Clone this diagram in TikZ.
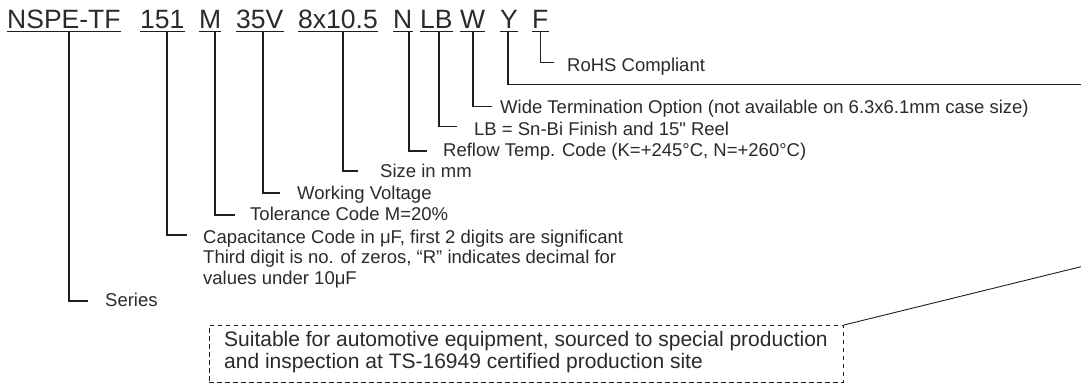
\documentclass[tikz,border=0pt]{standalone}
\usepackage{fontspec}
\setmainfont{Liberation Sans}
\newcommand{\straightdq}{\XeTeXglyph\XeTeXglyphindex "quotedbl"\relax}
\definecolor{ink}{HTML}{1E1E1E}
\definecolor{txt}{HTML}{2A2A2A}
\begin{document}
\begin{tikzpicture}[x=1pt,y=-1pt,
  hdr/.style={inner sep=0pt,anchor=base west,text=txt,font=\fontsize{26.5}{30}\selectfont},
  lbl/.style={inner sep=0pt,anchor=base west,text=txt,font=\fontsize{18.5}{20.3}\selectfont},
  boxtxt/.style={inner sep=0pt,anchor=base west,text=txt,font=\fontsize{21}{22}\selectfont},
  conn/.style={draw=ink,line width=1.1pt},
  uline/.style={draw=ink,line width=1.2pt},
  dbox/.style={draw=ink,line width=0.9pt,dash pattern=on 4.5pt off 3.5pt,inner sep=0pt,anchor=north west,minimum width=634pt,minimum height=57pt}]
\useasboundingbox (0,0) rectangle (1081,384);

% header code words
\node[hdr] (hA) at (7,28.3) {NSPE-TF};
\node[hdr] (hB) at (140,28.3) {151};
\node[hdr] (hC) at (199,28.3) {M};
\node[hdr] (hD) at (236,28.3) {35V};
\node[hdr] (hE) at (298,28.3) {8x10.5};
\node[hdr] (hF) at (393,28.3) {N};
\node[hdr] (hG) at (420,28.3) {LB};
\node[hdr] (hH) at (460,28.3) {W};
\node[hdr] (hI) at (500,28.3) {Y};
\node[hdr] (hJ) at (532,28.3) {F};
\foreach \n in {hA,hB,hC,hD,hE,hF,hG,hH,hI,hJ}
  \draw[uline] ([yshift=-3.4pt]\n.base west) -- ([yshift=-3.4pt]\n.base east);

% connector start points (on underlines)
\coordinate (sA) at (69,31.7);
\coordinate (sB) at (167,31.7);
\coordinate (sC) at (215,31.7);
\coordinate (sD) at (263,31.7);
\coordinate (sE) at (343,31.7);
\coordinate (sF) at (409,31.7);
\coordinate (sG) at (439,31.7);
\coordinate (sH) at (473,31.7);
\coordinate (sI) at (508,31.7);
\coordinate (sJ) at (540.5,31.7);

% connector end points
\coordinate (eA) at (88,301);
\coordinate (eB) at (187,235);
\coordinate (eC) at (235,215);
\coordinate (eD) at (280,193);
\coordinate (eE) at (358,171);
\coordinate (eF) at (427,151);
\coordinate (eG) at (457,126.7);
\coordinate (eH) at (492,106.7);
\coordinate (eI) at (1081,84.3);
\coordinate (eJ) at (554,62.7);

% labels
\node[lbl] (tJ) at (567,71) {RoHS Compliant};
\node[lbl] (tH) at (500,113.3) {Wide Termination Option (not available on 6.3x6.1mm case size)};
\node[lbl] (tG) at (474,135.7) {LB = Sn-Bi Finish and 15\straightdq{} Reel};
\node[lbl] (tF) at (443,156.7) {Reflow Temp. Code (K=+245°C, N=+260°C)};
\node[lbl] (tE) at (380,177.3) {Size in mm};
\node[lbl] (tD) at (297,199.3) {Working Voltage};
\node[lbl] (tC) at (250,220.7) {Tolerance Code M=20\%};
\node[lbl] (tB1) at (203,243.3) {Capacitance Code in μF, first 2 digits are significant};
\node[lbl] (tB2) at (203,263.3) {Third digit is no. of zeros, “R” indicates decimal for};
\node[lbl] (tB3) at (203,284) {values under 10μF};
\node[lbl] (tA) at (105,306.7) {Series};

% connectors
\foreach \k in {A,B,C,D,E,F,G,H,I,J}
  \draw[conn] (s\k) |- (e\k);

% dashed note box
\node[dbox] (box) at (209,325) {};
\node[boxtxt] (n1) at (224,346) {Suitable for automotive equipment, sourced to special production};
\node[boxtxt] (n2) at (224,368.3) {and inspection at TS-16949 certified production site};
\coordinate (eK) at (1081,266.7);
\draw[conn,line width=0.9pt] (box.north east) -- (eK);
\end{tikzpicture}
\end{document}
